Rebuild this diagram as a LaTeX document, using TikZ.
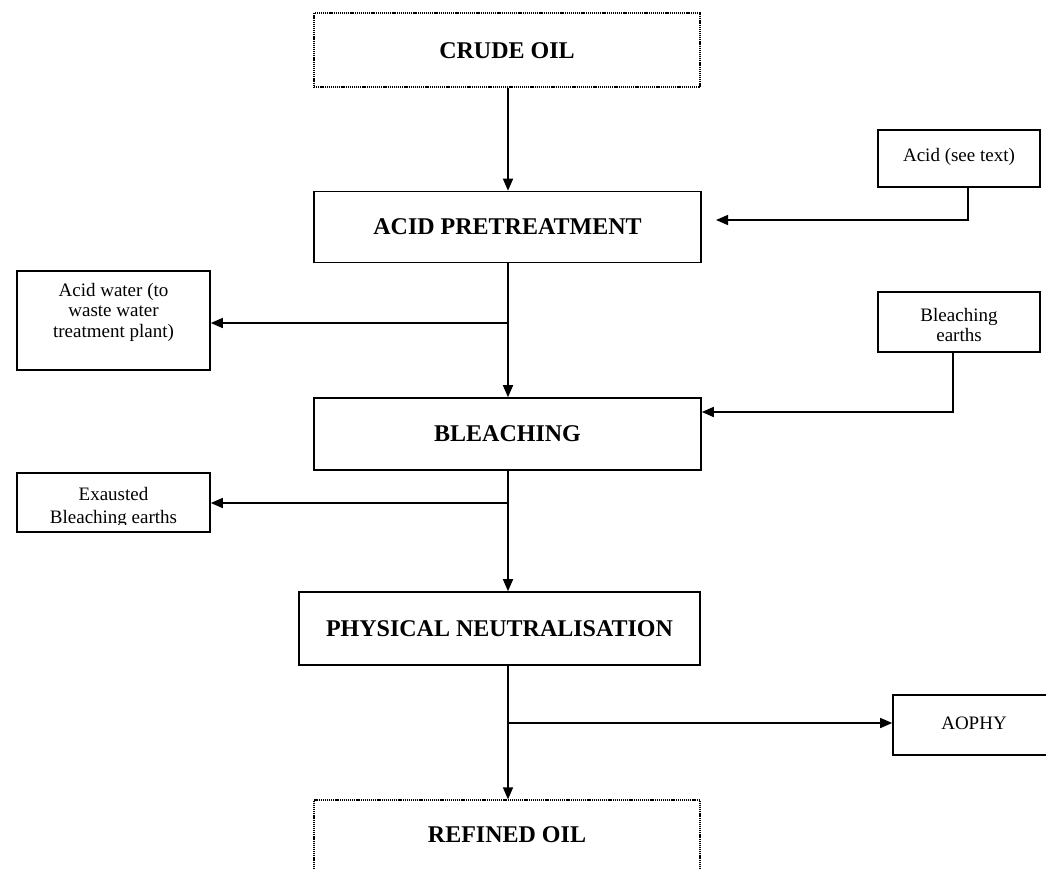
\documentclass[tikz,border=0pt]{standalone}
\usepackage{fontspec}
\setmainfont{Liberation Serif}
\usetikzlibrary{arrows.meta}
\tikzset{
  mainbox/.style={draw, line width=1.6pt, rectangle, inner sep=0pt, font=\fontsize{24}{28}\selectfont\bfseries},
  dotbox/.style={draw, line width=1.3pt, dash pattern=on 1.2pt off 0.9pt, rectangle, inner sep=0pt},
  sidebox/.style={draw, line width=1.6pt, rectangle, inner sep=0pt},
  title/.style={font=\fontsize{24}{28}\selectfont\bfseries, inner sep=0pt},
  small/.style={font=\fontsize{19}{20.5}\selectfont, align=center, inner sep=0pt},
  arr/.style={line width=1.5pt, -{Triangle[length=12pt,width=10pt]}},
  ln/.style={line width=1.5pt}
}
\begin{document}
\begin{tikzpicture}[x=1pt,y=-1pt]
\useasboundingbox (0,0) rectangle (1046,868);
\clip (0,0) rectangle (1046,868);
\fill[white] (0,0) rectangle (1046,868);
% main boxes
\node[dotbox, minimum width=386pt, minimum height=74pt] (crude) at (507,50) {};
\node[title] (crudet) at (507,51) {CRUDE OIL};
\node[mainbox, minimum width=387pt, minimum height=71pt] (acidpre) at (507.5,227) {ACID PRETREATMENT};
\node[mainbox, minimum width=387pt, minimum height=72pt] (bleach) at (507.5,434) {BLEACHING};
\node[mainbox, minimum width=401pt, minimum height=73pt] (phys) at (499.5,628.5) {PHYSICAL NEUTRALISATION};
\node[dotbox, minimum width=386pt, minimum height=80pt] (refined) at (507,840) {};
\node[title] (refinedt) at (507,835) {REFINED OIL};
% side boxes
\node[sidebox, minimum width=162pt, minimum height=57pt] (acidtext) at (959,158.5) {};
\node[small] (acidtextt) at (959,157) {Acid (see text)};
\node[sidebox, minimum width=193pt, minimum height=99pt] (acidwater) at (113.5,320.5) {};
\node[small] (acidwatert) at (113.5,312) {Acid water (to\\waste water\\treatment plant)};
\node[sidebox, minimum width=162pt, minimum height=60pt] (bearth) at (959,322) {};
\node[small] (bearths) at (959,325) {Bleaching\\earths};
\node[sidebox, minimum width=193pt, minimum height=59pt] (exaust) at (113.5,502.5) {};
\begin{scope}
\clip (17,474) rectangle (210,524);
\node[small, font=\fontsize{19}{23}\selectfont] (exaustt) at (113.5,507) {Exausted\\Bleaching earths};
\end{scope}
\node[sidebox, minimum width=162pt, minimum height=60pt] (aophy) at (974,725) {};
\node[small] (aophyt) at (974,723) {AOPHY};
% connectors
\coordinate (t1) at (716,220);
\coordinate (j1) at (508,323);
\coordinate (j2) at (508,503);
\coordinate (j3) at (508,723);
\draw[arr] (crude.south -| j1) -- (acidpre.north -| j1);
\draw[arr] ([xshift=9pt]acidtext.south) |- (t1);
\draw[arr] (acidpre.south -| j1) -- (bleach.north -| j1);
\draw[arr] (j1) -- (j1 -| acidwater.east);
\draw[arr] ([xshift=-6pt]bearth.south) |- (bleach.east |- 0,412);
\draw[arr] (bleach.south -| j1) -- (phys.north -| j1);
\draw[arr] (j2) -- (j2 -| exaust.east);
\draw[arr] (phys.south -| j1) -- (refined.north -| j1);
\draw[arr] (j3) -- (j3 -| aophy.west);
\end{tikzpicture}
\end{document}
